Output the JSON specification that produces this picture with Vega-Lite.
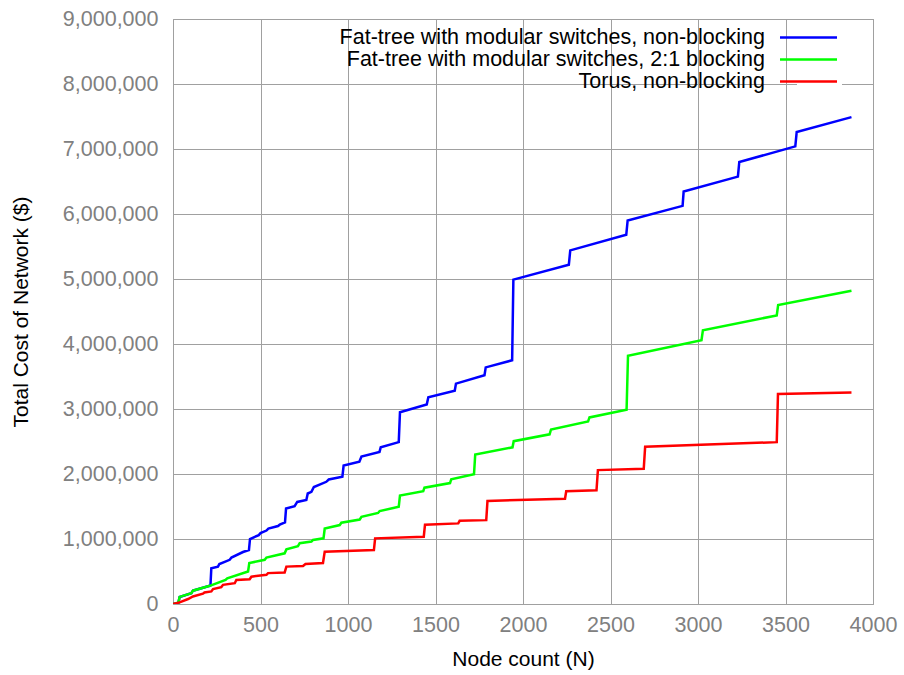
{
  "$schema": "https://vega.github.io/schema/vega-lite/v6.json",
  "autosize": "none",
  "width": 700,
  "height": 585,
  "padding": {"left": 173, "top": 19, "right": 31, "bottom": 71},
  "background": "white",
  "config": {
    "font": "Liberation Sans",
    "view": {"stroke": "#909090", "strokeWidth": 1},
    "axis": {
      "labelFont": "Liberation Sans",
      "titleFont": "Liberation Sans",
      "labelFontSize": 21.5,
      "titleFontSize": 21,
      "labelColor": "#808080",
      "titleColor": "#000000",
      "titleFontWeight": "normal",
      "gridColor": "#a0a0a0",
      "gridWidth": 1,
      "gridOpacity": 1,
      "domain": false,
      "ticks": false,
      "labelFlush": false,
      "labelOverlap": false
    }
  },
  "data": {
    "values": [
      {"series": "Fat-tree with modular switches, non-blocking", "n": 0, "cost": 0},
      {"series": "Fat-tree with modular switches, non-blocking", "n": 30, "cost": 10000},
      {"series": "Fat-tree with modular switches, non-blocking", "n": 38, "cost": 107000},
      {"series": "Fat-tree with modular switches, non-blocking", "n": 105, "cost": 168000},
      {"series": "Fat-tree with modular switches, non-blocking", "n": 114, "cost": 205000},
      {"series": "Fat-tree with modular switches, non-blocking", "n": 210, "cost": 280000},
      {"series": "Fat-tree with modular switches, non-blocking", "n": 214, "cost": 285000},
      {"series": "Fat-tree with modular switches, non-blocking", "n": 219, "cost": 550000},
      {"series": "Fat-tree with modular switches, non-blocking", "n": 257, "cost": 575000},
      {"series": "Fat-tree with modular switches, non-blocking", "n": 265, "cost": 615000},
      {"series": "Fat-tree with modular switches, non-blocking", "n": 324, "cost": 680000},
      {"series": "Fat-tree with modular switches, non-blocking", "n": 334, "cost": 715000},
      {"series": "Fat-tree with modular switches, non-blocking", "n": 400, "cost": 800000},
      {"series": "Fat-tree with modular switches, non-blocking", "n": 434, "cost": 830000},
      {"series": "Fat-tree with modular switches, non-blocking", "n": 440, "cost": 1000000},
      {"series": "Fat-tree with modular switches, non-blocking", "n": 490, "cost": 1060000},
      {"series": "Fat-tree with modular switches, non-blocking", "n": 500, "cost": 1090000},
      {"series": "Fat-tree with modular switches, non-blocking", "n": 534, "cost": 1130000},
      {"series": "Fat-tree with modular switches, non-blocking", "n": 545, "cost": 1160000},
      {"series": "Fat-tree with modular switches, non-blocking", "n": 600, "cost": 1200000},
      {"series": "Fat-tree with modular switches, non-blocking", "n": 610, "cost": 1220000},
      {"series": "Fat-tree with modular switches, non-blocking", "n": 640, "cost": 1255000},
      {"series": "Fat-tree with modular switches, non-blocking", "n": 646, "cost": 1470000},
      {"series": "Fat-tree with modular switches, non-blocking", "n": 695, "cost": 1505000},
      {"series": "Fat-tree with modular switches, non-blocking", "n": 710, "cost": 1570000},
      {"series": "Fat-tree with modular switches, non-blocking", "n": 762, "cost": 1600000},
      {"series": "Fat-tree with modular switches, non-blocking", "n": 770, "cost": 1700000},
      {"series": "Fat-tree with modular switches, non-blocking", "n": 791, "cost": 1725000},
      {"series": "Fat-tree with modular switches, non-blocking", "n": 805, "cost": 1800000},
      {"series": "Fat-tree with modular switches, non-blocking", "n": 876, "cost": 1880000},
      {"series": "Fat-tree with modular switches, non-blocking", "n": 890, "cost": 1915000},
      {"series": "Fat-tree with modular switches, non-blocking", "n": 968, "cost": 1960000},
      {"series": "Fat-tree with modular switches, non-blocking", "n": 975, "cost": 2130000},
      {"series": "Fat-tree with modular switches, non-blocking", "n": 1065, "cost": 2190000},
      {"series": "Fat-tree with modular switches, non-blocking", "n": 1077, "cost": 2270000},
      {"series": "Fat-tree with modular switches, non-blocking", "n": 1180, "cost": 2340000},
      {"series": "Fat-tree with modular switches, non-blocking", "n": 1187, "cost": 2410000},
      {"series": "Fat-tree with modular switches, non-blocking", "n": 1290, "cost": 2490000},
      {"series": "Fat-tree with modular switches, non-blocking", "n": 1297, "cost": 2950000},
      {"series": "Fat-tree with modular switches, non-blocking", "n": 1450, "cost": 3070000},
      {"series": "Fat-tree with modular switches, non-blocking", "n": 1459, "cost": 3180000},
      {"series": "Fat-tree with modular switches, non-blocking", "n": 1610, "cost": 3280000},
      {"series": "Fat-tree with modular switches, non-blocking", "n": 1617, "cost": 3390000},
      {"series": "Fat-tree with modular switches, non-blocking", "n": 1780, "cost": 3520000},
      {"series": "Fat-tree with modular switches, non-blocking", "n": 1787, "cost": 3640000},
      {"series": "Fat-tree with modular switches, non-blocking", "n": 1938, "cost": 3750000},
      {"series": "Fat-tree with modular switches, non-blocking", "n": 1945, "cost": 4990000},
      {"series": "Fat-tree with modular switches, non-blocking", "n": 2262, "cost": 5220000},
      {"series": "Fat-tree with modular switches, non-blocking", "n": 2270, "cost": 5440000},
      {"series": "Fat-tree with modular switches, non-blocking", "n": 2590, "cost": 5680000},
      {"series": "Fat-tree with modular switches, non-blocking", "n": 2598, "cost": 5900000},
      {"series": "Fat-tree with modular switches, non-blocking", "n": 2912, "cost": 6125000},
      {"series": "Fat-tree with modular switches, non-blocking", "n": 2918, "cost": 6345000},
      {"series": "Fat-tree with modular switches, non-blocking", "n": 3228, "cost": 6575000},
      {"series": "Fat-tree with modular switches, non-blocking", "n": 3236, "cost": 6800000},
      {"series": "Fat-tree with modular switches, non-blocking", "n": 3556, "cost": 7040000},
      {"series": "Fat-tree with modular switches, non-blocking", "n": 3564, "cost": 7260000},
      {"series": "Fat-tree with modular switches, non-blocking", "n": 3877, "cost": 7490000},

      {"series": "Fat-tree with modular switches, 2:1 blocking", "n": 0, "cost": 0},
      {"series": "Fat-tree with modular switches, 2:1 blocking", "n": 30, "cost": 20000},
      {"series": "Fat-tree with modular switches, 2:1 blocking", "n": 38, "cost": 110000},
      {"series": "Fat-tree with modular switches, 2:1 blocking", "n": 105, "cost": 168000},
      {"series": "Fat-tree with modular switches, 2:1 blocking", "n": 114, "cost": 205000},
      {"series": "Fat-tree with modular switches, 2:1 blocking", "n": 210, "cost": 280000},
      {"series": "Fat-tree with modular switches, 2:1 blocking", "n": 300, "cost": 370000},
      {"series": "Fat-tree with modular switches, 2:1 blocking", "n": 310, "cost": 395000},
      {"series": "Fat-tree with modular switches, 2:1 blocking", "n": 429, "cost": 500000},
      {"series": "Fat-tree with modular switches, 2:1 blocking", "n": 436, "cost": 630000},
      {"series": "Fat-tree with modular switches, 2:1 blocking", "n": 524, "cost": 680000},
      {"series": "Fat-tree with modular switches, 2:1 blocking", "n": 534, "cost": 715000},
      {"series": "Fat-tree with modular switches, 2:1 blocking", "n": 638, "cost": 780000},
      {"series": "Fat-tree with modular switches, 2:1 blocking", "n": 648, "cost": 840000},
      {"series": "Fat-tree with modular switches, 2:1 blocking", "n": 714, "cost": 890000},
      {"series": "Fat-tree with modular switches, 2:1 blocking", "n": 724, "cost": 935000},
      {"series": "Fat-tree with modular switches, 2:1 blocking", "n": 791, "cost": 960000},
      {"series": "Fat-tree with modular switches, 2:1 blocking", "n": 800, "cost": 985000},
      {"series": "Fat-tree with modular switches, 2:1 blocking", "n": 860, "cost": 1010000},
      {"series": "Fat-tree with modular switches, 2:1 blocking", "n": 867, "cost": 1160000},
      {"series": "Fat-tree with modular switches, 2:1 blocking", "n": 953, "cost": 1215000},
      {"series": "Fat-tree with modular switches, 2:1 blocking", "n": 962, "cost": 1250000},
      {"series": "Fat-tree with modular switches, 2:1 blocking", "n": 1067, "cost": 1300000},
      {"series": "Fat-tree with modular switches, 2:1 blocking", "n": 1077, "cost": 1340000},
      {"series": "Fat-tree with modular switches, 2:1 blocking", "n": 1172, "cost": 1400000},
      {"series": "Fat-tree with modular switches, 2:1 blocking", "n": 1181, "cost": 1430000},
      {"series": "Fat-tree with modular switches, 2:1 blocking", "n": 1290, "cost": 1495000},
      {"series": "Fat-tree with modular switches, 2:1 blocking", "n": 1297, "cost": 1670000},
      {"series": "Fat-tree with modular switches, 2:1 blocking", "n": 1430, "cost": 1735000},
      {"series": "Fat-tree with modular switches, 2:1 blocking", "n": 1437, "cost": 1790000},
      {"series": "Fat-tree with modular switches, 2:1 blocking", "n": 1583, "cost": 1860000},
      {"series": "Fat-tree with modular switches, 2:1 blocking", "n": 1590, "cost": 1920000},
      {"series": "Fat-tree with modular switches, 2:1 blocking", "n": 1720, "cost": 1995000},
      {"series": "Fat-tree with modular switches, 2:1 blocking", "n": 1727, "cost": 2300000},
      {"series": "Fat-tree with modular switches, 2:1 blocking", "n": 1940, "cost": 2410000},
      {"series": "Fat-tree with modular switches, 2:1 blocking", "n": 1947, "cost": 2505000},
      {"series": "Fat-tree with modular switches, 2:1 blocking", "n": 2152, "cost": 2610000},
      {"series": "Fat-tree with modular switches, 2:1 blocking", "n": 2160, "cost": 2685000},
      {"series": "Fat-tree with modular switches, 2:1 blocking", "n": 2372, "cost": 2810000},
      {"series": "Fat-tree with modular switches, 2:1 blocking", "n": 2380, "cost": 2870000},
      {"series": "Fat-tree with modular switches, 2:1 blocking", "n": 2592, "cost": 2990000},
      {"series": "Fat-tree with modular switches, 2:1 blocking", "n": 2600, "cost": 3820000},
      {"series": "Fat-tree with modular switches, 2:1 blocking", "n": 3020, "cost": 4060000},
      {"series": "Fat-tree with modular switches, 2:1 blocking", "n": 3028, "cost": 4210000},
      {"series": "Fat-tree with modular switches, 2:1 blocking", "n": 3450, "cost": 4440000},
      {"series": "Fat-tree with modular switches, 2:1 blocking", "n": 3458, "cost": 4600000},
      {"series": "Fat-tree with modular switches, 2:1 blocking", "n": 3877, "cost": 4820000},

      {"series": "Torus, non-blocking", "n": 0, "cost": 0},
      {"series": "Torus, non-blocking", "n": 38, "cost": 25000},
      {"series": "Torus, non-blocking", "n": 86, "cost": 77000},
      {"series": "Torus, non-blocking", "n": 114, "cost": 116000},
      {"series": "Torus, non-blocking", "n": 171, "cost": 158000},
      {"series": "Torus, non-blocking", "n": 180, "cost": 178000},
      {"series": "Torus, non-blocking", "n": 219, "cost": 193000},
      {"series": "Torus, non-blocking", "n": 229, "cost": 230000},
      {"series": "Torus, non-blocking", "n": 276, "cost": 260000},
      {"series": "Torus, non-blocking", "n": 286, "cost": 295000},
      {"series": "Torus, non-blocking", "n": 353, "cost": 320000},
      {"series": "Torus, non-blocking", "n": 362, "cost": 370000},
      {"series": "Torus, non-blocking", "n": 438, "cost": 380000},
      {"series": "Torus, non-blocking", "n": 448, "cost": 420000},
      {"series": "Torus, non-blocking", "n": 534, "cost": 450000},
      {"series": "Torus, non-blocking", "n": 543, "cost": 475000},
      {"series": "Torus, non-blocking", "n": 638, "cost": 485000},
      {"series": "Torus, non-blocking", "n": 648, "cost": 575000},
      {"series": "Torus, non-blocking", "n": 743, "cost": 585000},
      {"series": "Torus, non-blocking", "n": 757, "cost": 615000},
      {"series": "Torus, non-blocking", "n": 857, "cost": 630000},
      {"series": "Torus, non-blocking", "n": 867, "cost": 805000},
      {"series": "Torus, non-blocking", "n": 1148, "cost": 830000},
      {"series": "Torus, non-blocking", "n": 1155, "cost": 1010000},
      {"series": "Torus, non-blocking", "n": 1433, "cost": 1035000},
      {"series": "Torus, non-blocking", "n": 1440, "cost": 1220000},
      {"series": "Torus, non-blocking", "n": 1630, "cost": 1240000},
      {"series": "Torus, non-blocking", "n": 1638, "cost": 1280000},
      {"series": "Torus, non-blocking", "n": 1790, "cost": 1290000},
      {"series": "Torus, non-blocking", "n": 1797, "cost": 1585000},
      {"series": "Torus, non-blocking", "n": 2240, "cost": 1620000},
      {"series": "Torus, non-blocking", "n": 2247, "cost": 1735000},
      {"series": "Torus, non-blocking", "n": 2420, "cost": 1750000},
      {"series": "Torus, non-blocking", "n": 2428, "cost": 2060000},
      {"series": "Torus, non-blocking", "n": 2690, "cost": 2080000},
      {"series": "Torus, non-blocking", "n": 2698, "cost": 2420000},
      {"series": "Torus, non-blocking", "n": 3450, "cost": 2490000},
      {"series": "Torus, non-blocking", "n": 3457, "cost": 3230000},
      {"series": "Torus, non-blocking", "n": 3877, "cost": 3255000}
    ]
  },
  "mark": {"type": "line", "strokeWidth": 2.5, "clip": true},
  "encoding": {
    "x": {
      "field": "n",
      "type": "quantitative",
      "scale": {"domain": [0, 4000], "nice": false, "zero": true},
      "axis": {
        "title": "Node count (N)",
        "values": [0, 500, 1000, 1500, 2000, 2500, 3000, 3500, 4000],
        "format": "d",
        "labelPadding": 10,
        "titlePadding": 13
      }
    },
    "y": {
      "field": "cost",
      "type": "quantitative",
      "scale": {"domain": [0, 9000000], "nice": false},
      "axis": {
        "title": "Total Cost of Network ($)",
        "values": [0, 1000000, 2000000, 3000000, 4000000, 5000000, 6000000, 7000000, 8000000, 9000000],
        "format": ",d",
        "labelPadding": 15,
        "titlePadding": 31
      }
    },
    "color": {
      "field": "series",
      "type": "nominal",
      "sort": null,
      "scale": {
        "domain": ["Fat-tree with modular switches, non-blocking", "Fat-tree with modular switches, 2:1 blocking", "Torus, non-blocking"],
        "range": ["#0000ff", "#00ff00", "#ff0000"]
      },
      "legend": {
        "title": null,
        "orient": "none",
        "legendX": 624,
        "legendY": 7,
        "symbolType": "M-2.85,0H2.85",
        "symbolSize": 400,
        "symbolStrokeWidth": 2.5,
        "rowPadding": -1,
        "labelFont": "Liberation Sans",
        "labelFontSize": 21.5,
        "labelColor": "#000000",
        "labelAlign": "right",
        "labelOffset": -55,
        "labelLimit": 600,
        "fillColor": "white",
        "padding": 0
      }
    }
  }
}
